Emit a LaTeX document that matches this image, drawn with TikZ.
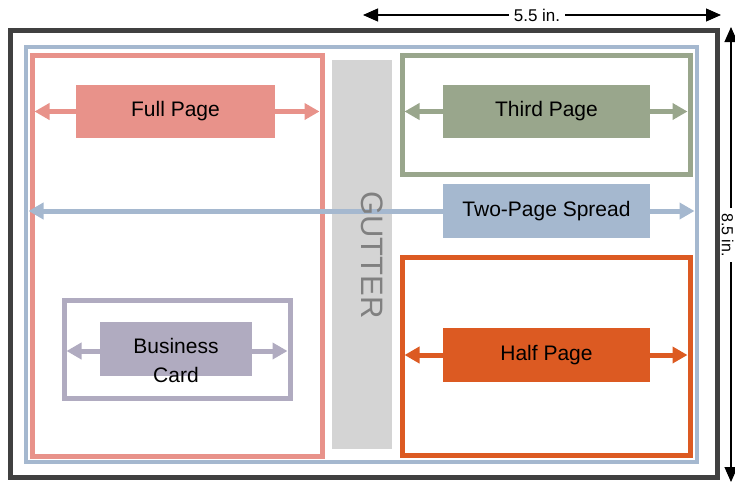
\documentclass[tikz,border=0pt]{standalone}
\usepackage{fontspec}
\setmainfont{Liberation Sans}
\usetikzlibrary{arrows.meta,calc}
\pgfdeclarelayer{frames}
\pgfdeclarelayer{arrowlayer}
\pgfsetlayers{frames,arrowlayer,main}
\definecolor{darkframe}{HTML}{404040}
\definecolor{spreadc}{HTML}{A5B8CF}
\definecolor{fullc}{HTML}{E8928A}
\definecolor{gutterc}{HTML}{D4D4D4}
\definecolor{guttertext}{HTML}{808080}
\definecolor{thirdc}{HTML}{99A68C}
\definecolor{halfc}{HTML}{DC5A22}
\definecolor{bcc}{HTML}{B0ABC0}
\tikzset{
  frame/.style={draw, line width=5pt, inner sep=0pt, outer sep=0pt, fill=none},
  adbox/.style={inner sep=0pt, outer sep=0pt, minimum height=53pt, font=\fontsize{21}{24}\selectfont, text=black},
  sizearrow/.style={line width=5pt, -{Triangle[length=15pt,width=16pt]}},
  dimarrow/.style={line width=1.1pt, black, {Triangle[length=15pt,width=13pt]}-{Triangle[length=15pt,width=13pt]}},
  dimlabel/.style={fill=white, inner xsep=5pt, inner ysep=0.5pt, font=\fontsize{17}{20}\selectfont}
}
\begin{document}
\begin{tikzpicture}[x=1pt,y=-1pt]
\useasboundingbox (0,0) rectangle (735,482);
% frames
\begin{pgfonlayer}{frames}
\node[frame, draw=darkframe, minimum width=707pt, minimum height=447pt] (page) at (363.5,253.5) {};
\node[frame, draw=spreadc, line width=4.5pt, minimum width=671pt, minimum height=415pt] (spreadframe) at (361.5,254.5) {};
\node[frame, draw=fullc, minimum width=290pt, minimum height=401pt] (fullframe) at (177,255.5) {};
\node[fill=gutterc, inner sep=0pt, minimum width=60pt, minimum height=389pt] (gutter) at (362,254.5) {};
\node[frame, draw=thirdc, minimum width=288pt, minimum height=119pt] (thirdframe) at (546,114.5) {};
\node[frame, draw=halfc, minimum width=288pt, minimum height=198pt] (halfframe) at (546,356) {};
\node[frame, draw=bcc, minimum width=226pt, minimum height=98pt] (bcframe) at (177,349) {};
\end{pgfonlayer}
% gutter label
\node[rotate=-90, text=guttertext, font=\fontsize{31}{34}\selectfont] (gutterlabel) at (372,255) {GUTTER};
% ad boxes
\node[adbox, fill=fullc, minimum width=199pt] (full) at (175.5,111.5) {Full Page};
\node[adbox, fill=thirdc, minimum width=207pt] (third) at (546.5,111.5) {Third Page};
\node[adbox, fill=spreadc, minimum width=207pt, minimum height=54pt] (spread) at (546.5,211) {Two-Page Spread};
\node[adbox, fill=halfc, minimum width=207pt, minimum height=54pt] (half) at (546.5,355) {Half Page};
\node[adbox, fill=bcc, minimum width=152pt, minimum height=54pt] (bc) at (176,349) {};
\node[font=\fontsize{21}{29}\selectfont, align=center, inner sep=0pt] (bctext) at (176,360) {Business\\Card};
% arrows
\begin{pgfonlayer}{arrowlayer}
\draw[sizearrow, fullc] (full.west) -- ($(full.west -| fullframe.west)+(2.5,0)$);
\draw[sizearrow, fullc] (full.east) -- ($(full.east -| fullframe.east)+(-2.5,0)$);
\draw[sizearrow, thirdc] (third.west) -- ($(third.west -| thirdframe.west)+(2.5,0)$);
\draw[sizearrow, thirdc] (third.east) -- ($(third.east -| thirdframe.east)+(-2.5,0)$);
\draw[sizearrow, spreadc] (spread.west) -- ($(spread.west -| spreadframe.west)+(2.5,0)$);
\draw[sizearrow, spreadc] (spread.east) -- ($(spread.east -| spreadframe.east)+(-2.5,0)$);
\draw[sizearrow, halfc] (half.west) -- ($(half.west -| halfframe.west)+(2.5,0)$);
\draw[sizearrow, halfc] (half.east) -- ($(half.east -| halfframe.east)+(-2.5,0)$);
\draw[sizearrow, bcc] ([yshift=-2pt]bc.west) -- ($([yshift=-2pt]bc.west -| bcframe.west)+(2.5,0)$);
\draw[sizearrow, bcc] ([yshift=-2pt]bc.east) -- ($([yshift=-2pt]bc.east -| bcframe.east)+(-2.5,0)$);
\end{pgfonlayer}
% dimensions
\coordinate (wL) at (363,15);
\coordinate (wR) at (721,15);
\coordinate (hT) at (731,27);
\coordinate (hB) at (731,482);
\draw[dimarrow] (wL) -- (wR);
\draw[dimarrow] (hT) -- (hB);
\node[dimlabel, inner ysep=2pt] (wlabel) at (537,15) {5.5 in.};
\node[dimlabel, rotate=-90, font=\fontsize{16}{18}\selectfont] (hlabel) at (727.5,235) {8.5 in.};
\end{tikzpicture}
\end{document}
